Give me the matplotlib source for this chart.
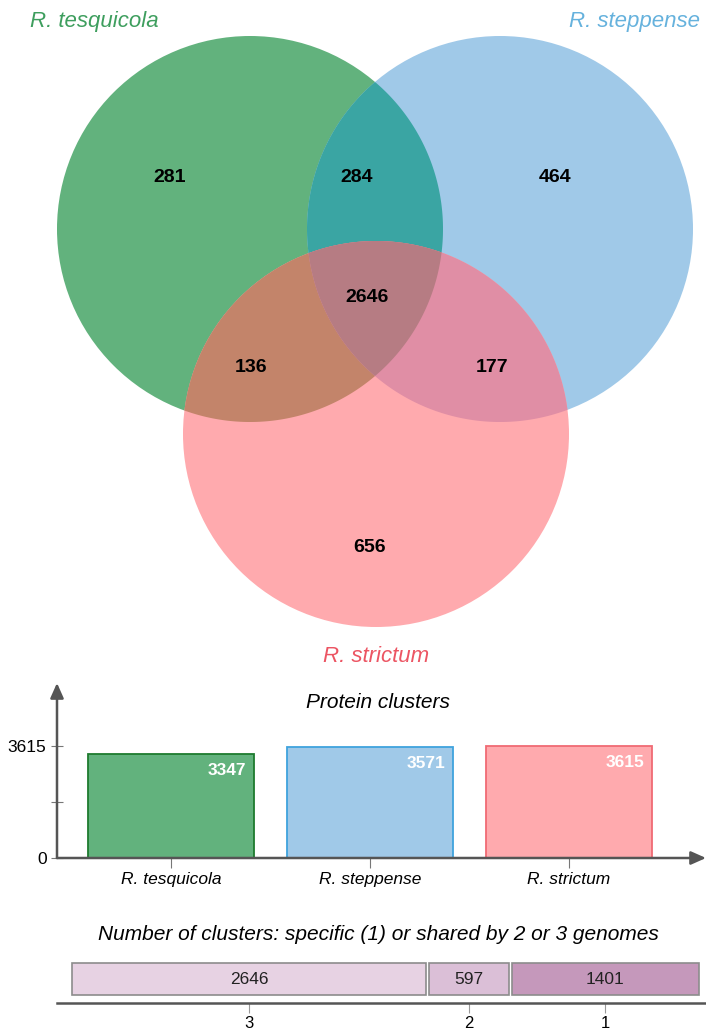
import numpy as np
import matplotlib
matplotlib.use("Agg")
import matplotlib.pyplot as plt
from matplotlib.patches import Circle, Polygon

plt.rcParams['font.family'] = ['Liberation Sans', 'DejaVu Sans']

# ---------------- data ----------------
species = ["R. tesquicola", "R. steppense", "R. strictum"]
venn_labels = ["281", "464", "656", "284", "136", "177", "2646"]  # A, B, C, AB, AC, BC, ABC
totals = [3347, 3571, 3615]
share_counts = [2646, 597, 1401]
share_labels = ["3", "2", "1"]

# ---------------- style ----------------
fill_cols = ["#62B27D", "#A0C9E8", "#FFAAAE"]
edge_cols = ["#1E7B2E", "#3FA3DD", "#F06A74"]
text_cols = ["#3E9E5E", "#66B2DD", "#EC5563"]
pair_cols = {"AB": "#3AA5A3", "AC": "#C3846A", "BC": "#E08EA5"}
center_col = "#B67C83"
share_cols = ["#E7D2E3", "#DBBFD7", "#C598BB"]
axis_col = "#555555"

W, H = 706, 1032
fig = plt.figure(figsize=(W / 100, H / 100), dpi=100)

# ---------------- Venn ----------------
VH = 680
axv = fig.add_axes([0, 1 - VH / H, 1, VH / H])
axv.set_xlim(0, W)
axv.set_ylim(VH, 0)
axv.axis("off")

R = 193
centers = [(250, 229), (500, 229), (376, 434)]


def inside(p, c):
    return (p[0] - c[0]) ** 2 + (p[1] - c[1]) ** 2 <= R ** 2 + 1e-6


def intersection_poly(idx):
    t = np.linspace(0, 2 * np.pi, 2000, endpoint=False)
    pts = []
    for i in idx:
        cx, cy = centers[i]
        for a in t:
            p = (cx + R * np.cos(a), cy + R * np.sin(a))
            if all(inside(p, centers[j]) for j in idx if j != i):
                pts.append(p)
    pts = np.array(pts)
    cen = pts.mean(axis=0)
    ang = np.arctan2(pts[:, 1] - cen[1], pts[:, 0] - cen[0])
    return pts[np.argsort(ang)]


for c, col in zip(centers, fill_cols):
    axv.add_patch(Circle(c, R, facecolor=col, edgecolor="none"))
for key, idx in (("AB", (0, 1)), ("AC", (0, 2)), ("BC", (1, 2))):
    axv.add_patch(Polygon(intersection_poly(idx), closed=True,
                          facecolor=pair_cols[key], edgecolor="none"))
axv.add_patch(Polygon(intersection_poly((0, 1, 2)), closed=True,
                      facecolor=center_col, edgecolor="none"))

venn_pos = [(170, 178), (555, 178), (370, 547), (357, 178), (251, 368),
            (492, 368), (367, 297)]
for lab, (x, y) in zip(venn_labels, venn_pos):
    axv.text(x, y, lab, ha="center", va="center", fontsize=14,
             fontweight="bold", color="black")

axv.text(30, 22, species[0], ha="left", va="center", fontsize=16,
         style="italic", color=text_cols[0])
axv.text(700, 22, species[1], ha="right", va="center", fontsize=16,
         style="italic", color=text_cols[1])
axv.text(376, 657, species[2], ha="center", va="center", fontsize=16,
         style="italic", color=text_cols[2])

# ---------------- Protein clusters bar chart ----------------
x0_px, zero_px, top_px = 57, 858, 683
y3615_px = 746
cat_px = [171, 370, 569]
spacing = cat_px[1] - cat_px[0]
axb = fig.add_axes([x0_px / W, (H - zero_px) / H, (W - x0_px) / W,
                    (zero_px - top_px) / H])
ymax = (zero_px - top_px) / (zero_px - y3615_px) * max(totals)
axb.set_ylim(0, ymax)
axb.set_xlim(-(cat_px[0] - x0_px) / spacing, (W - cat_px[0]) / spacing)
xs = np.arange(len(species))
axb.bar(xs, totals, width=166 / spacing, color=fill_cols, edgecolor=edge_cols,
        linewidth=1.3, zorder=2)
for x, v in zip(xs, totals):
    axb.text(x + 0.38, v - max(totals) * 0.08, str(v), ha="right", va="top",
             fontsize=12.5, fontweight="bold", color="white", zorder=3)
for s in axb.spines.values():
    s.set_visible(False)
axb.patch.set_alpha(0)
axb.annotate("", xy=(0, 1), xytext=(0, 0), xycoords="axes fraction",
             arrowprops=dict(arrowstyle="-|>,head_length=0.9,head_width=0.4",
                             color=axis_col, lw=1.8, shrinkA=0, shrinkB=0),
             zorder=4)
axb.annotate("", xy=(1, 0), xytext=(0, 0), xycoords="axes fraction",
             arrowprops=dict(arrowstyle="-|>,head_length=0.9,head_width=0.4",
                             color=axis_col, lw=1.8, shrinkA=0, shrinkB=0),
             zorder=4)
axb.set_yticks([0, max(totals) / 2, max(totals)])
axb.set_yticklabels(["0", "", str(max(totals))], fontsize=12.5)
axb.tick_params(axis="y", direction="inout", length=9, width=0.8,
                color="#777777", pad=3)
axb.set_xticks(xs)
axb.set_xticklabels(species, fontsize=12.5, style="italic")
axb.tick_params(axis="x", direction="out", length=7, width=0.8,
                color="#777777", pad=3)
fig.text(378 / W, 1 - 703 / H, "Protein clusters", ha="center", va="center",
         fontsize=15, style="italic")

# ---------------- Shared clusters stacked bar ----------------
base_px, bar_top_px, bar_bot_px = 1003, 963, 995
left_px, right_px = 72, 699
gap_px = 3
s = (right_px - left_px - gap_px * (len(share_counts) - 1)) / sum(share_counts)
axs = fig.add_axes([x0_px / W, (H - base_px) / H, (W - x0_px) / W, 50 / H])
axs.set_xlim(-(left_px - x0_px) / s, (W - left_px) / s)
axs.set_ylim(0, 50)
lefts = np.concatenate([[0], np.cumsum(share_counts)[:-1]]) + \
    np.arange(len(share_counts)) * gap_px / s
axs.barh(base_px - (bar_top_px + bar_bot_px) / 2, share_counts, left=lefts,
         height=bar_bot_px - bar_top_px, color=share_cols,
         edgecolor="#8C8C8C", linewidth=1.2)
mids = lefts + np.array(share_counts) / 2
for m, v in zip(mids, share_counts):
    axs.text(m, base_px - (bar_top_px + bar_bot_px) / 2, str(v),
             ha="center", va="center", fontsize=12.5, color="#222222")
for k in ("top", "left", "right"):
    axs.spines[k].set_visible(False)
axs.spines["bottom"].set_color(axis_col)
axs.spines["bottom"].set_linewidth(1.8)
axs.patch.set_alpha(0)
axs.set_yticks([])
axs.set_xticks(mids)
axs.set_xticklabels(share_labels, fontsize=12)
axs.tick_params(axis="x", direction="out", length=7, width=0.8,
                color="#999999", pad=2)
fig.text(378 / W, 1 - 935 / H,
         "Number of clusters: specific (1) or shared by 2 or 3 genomes",
         ha="center", va="center", fontsize=15, style="italic")

fig.savefig("out.png", dpi=100)
